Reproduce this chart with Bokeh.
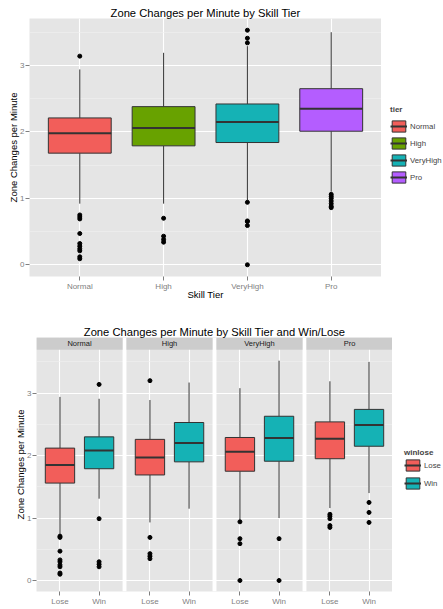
from bokeh.plotting import figure
from bokeh.models import Range1d, FixedTicker, Legend, LegendItem, ColumnDataSource
from bokeh.layouts import column, row
from bokeh.embed import file_html
from bokeh.resources import INLINE
from bokeh.core.properties import value

FONT = "Liberation Sans"

# ---------------- data: chart 1 (by tier) ----------------
tiers = ["Normal", "High", "VeryHigh", "Pro"]
tier_colors = ["#F25E5A", "#68A200", "#15B2B5", "#B45DFF"]
tier_lower = [0.92, 0.92, 0.97, 1.10]
tier_q1 = [1.68, 1.79, 1.84, 2.01]
tier_median = [1.98, 2.06, 2.15, 2.35]
tier_q3 = [2.21, 2.38, 2.42, 2.65]
tier_upper = [2.94, 3.19, 3.29, 3.50]
out_normal = [3.14, 0.75, 0.72, 0.69, 0.47, 0.32, 0.28, 0.24, 0.21, 0.12, 0.09]
out_high = [0.70, 0.43, 0.38, 0.34]
out_veryhigh = [3.53, 3.41, 3.34, 0.94, 0.66, 0.65, 0.59, 0.0]
out_pro = [1.06, 1.03, 1.00, 0.96, 0.92, 0.88, 0.86]
tier_outliers = [out_normal, out_high, out_veryhigh, out_pro]

# ---------------- data: chart 2 (tier x win/lose) ----------------
winlose = ["Lose", "Win"]
winlose_colors = ["#F25E5A", "#15B2B5"]
wl_tier = ["Normal", "Normal", "High", "High", "VeryHigh", "VeryHigh", "Pro", "Pro"]
wl_outcome = ["Lose", "Win", "Lose", "Win", "Lose", "Win", "Lose", "Win"]
wl_lower = [0.73, 1.31, 0.93, 1.15, 0.97, 1.00, 1.16, 1.40]
wl_q1 = [1.56, 1.79, 1.69, 1.90, 1.75, 1.91, 1.95, 2.15]
wl_median = [1.85, 2.08, 1.97, 2.20, 2.06, 2.28, 2.27, 2.49]
wl_q3 = [2.12, 2.30, 2.26, 2.53, 2.29, 2.63, 2.54, 2.74]
wl_upper = [2.94, 2.91, 2.89, 3.17, 3.08, 3.52, 3.19, 3.50]
out_normal_lose = [0.71, 0.69, 0.47, 0.33, 0.30, 0.25, 0.22, 0.12, 0.10]
out_normal_win = [3.14, 0.99, 0.30, 0.26, 0.22]
out_high_lose = [3.20, 0.69, 0.43, 0.39, 0.35]
out_high_win = []
out_veryhigh_lose = [0.94, 0.67, 0.59, 0.0]
out_veryhigh_win = [0.67, 0.0]
out_pro_lose = [1.06, 1.03, 0.99, 0.88, 0.85]
out_pro_win = [1.25, 1.09, 0.93]
wl_outliers = [out_normal_lose, out_normal_win, out_high_lose, out_high_win,
               out_veryhigh_lose, out_veryhigh_win, out_pro_lose, out_pro_win]

BOX_W = 0.75
EDGE = "#333333"
PANEL_BG = "#E5E5E5"
GREY = "#7F7F7F"


def expanded(lo_list, hi_list, outs):
    vals = list(lo_list) + list(hi_list) + [v for o in outs for v in o]
    lo, hi = min(vals), max(vals)
    pad = 0.05 * (hi - lo)
    return lo - pad, hi + pad


def style(p, title):
    p.title.text = title
    p.title.text_font = FONT
    p.title.text_font_size = "11.2px"
    p.title.text_font_style = "normal"
    p.title.text_color = "black"
    p.title.align = "center"
    p.title.standoff = 0
    p.background_fill_color = PANEL_BG
    p.border_fill_color = "white"
    p.outline_line_color = None
    for ax in (p.xaxis[0], p.yaxis[0]):
        ax.axis_line_color = None
        ax.major_tick_line_color = GREY
        ax.major_tick_in = 0
        ax.major_tick_out = 4
        ax.minor_tick_line_color = None
        ax.major_label_text_font = FONT
        ax.major_label_text_font_size = "8px"
        ax.major_label_text_color = GREY
        ax.major_label_standoff = 1
        ax.axis_label_text_font = FONT
        ax.axis_label_text_font_size = "9.5px"
        ax.axis_label_text_font_style = "normal"
        ax.axis_label_text_color = "black"
    p.xaxis[0].axis_label_standoff = -5
    p.yaxis[0].axis_label_standoff = -2
    p.yaxis[0].ticker = FixedTicker(ticks=[0, 1, 2, 3], minor_ticks=[0.5, 1.5, 2.5, 3.5])
    p.xgrid.grid_line_color = "white"
    p.xgrid.grid_line_width = 1.1
    p.ygrid.grid_line_color = "white"
    p.ygrid.grid_line_width = 1.1
    p.ygrid.minor_grid_line_color = "#F0F0F0"
    p.ygrid.minor_grid_line_width = 0.6


def legend_panel(labels, colors, q1, q3, med, title, width, height, loc, spacing, t_standoff):
    """A small side figure that only holds the legend.  Its key renderers carry the
    real box values but the figure's ranges keep them out of view, so only the
    legend keys are drawn."""
    lf = figure(width=width, height=height, x_range=Range1d(-2, -1), y_range=Range1d(-2, -1),
                output_backend="svg", toolbar_location=None, min_border=0,
                x_axis_location=None, y_axis_location=None)
    lf.outline_line_color = None
    lf.background_fill_color = "white"
    lf.border_fill_color = "white"
    lf.grid.visible = False
    items = []
    for i, (lab, col) in enumerate(zip(labels, colors)):
        xi = i + 1
        rb = lf.vbar(x=[xi], top=[q3[i]], bottom=[q1[i]], width=BOX_W, fill_color=col,
                     line_color=EDGE, line_width=1)
        rm = lf.segment(x0=[xi - BOX_W / 2], x1=[xi + BOX_W / 2], y0=[med[i]], y1=[med[i]],
                        line_color=EDGE, line_width=2)
        items.append(LegendItem(label=lab, renderers=[rb, rm]))
    lg = Legend(items=items, location=loc, spacing=spacing)
    lg.title = title
    lg.title_text_font = FONT
    lg.title_text_font_size = "8px"
    lg.title_text_font_style = "bold"
    lg.title_standoff = t_standoff
    lg.label_text_font = FONT
    lg.label_text_font_size = "7.8px"
    lg.label_standoff = 3
    lg.glyph_width = 17
    lg.glyph_height = 14
    lg.padding = 0
    lg.margin = 0
    lg.border_line_color = None
    lg.background_fill_alpha = 0
    lf.add_layout(lg)
    return lf


def draw_boxes(p, xs, lower, q1, med, q3, upper, colors, outs):
    src = ColumnDataSource(dict(
        x=xs, xl=[x - BOX_W / 2 for x in xs], xr=[x + BOX_W / 2 for x in xs],
        lower=lower, q1=q1, med=med, q3=q3, upper=upper, color=colors))
    p.segment(x0="x", x1="x", y0="q3", y1="upper", line_color=EDGE, line_width=1, source=src)
    p.segment(x0="x", x1="x", y0="lower", y1="q1", line_color=EDGE, line_width=1, source=src)
    p.vbar(x="x", width=BOX_W, bottom="q1", top="q3", fill_color="color",
           line_color=EDGE, line_width=1, source=src)
    p.segment(x0="xl", x1="xr", y0="med", y1="med", line_color=EDGE,
              line_width=2, source=src)
    ox, oy = [], []
    for x, o in zip(xs, outs):
        ox += [x] * len(o)
        oy += o
    p.scatter(ox, oy, size=4, color="black")


H1, H2 = 306, 302

# ---------------- figure 1 ----------------
y0, y1 = expanded(tier_lower, tier_upper, tier_outliers)
p1 = figure(width=381, height=H1, x_range=Range1d(0.4, len(tiers) + 0.6),
            y_range=Range1d(y0, y1), output_backend="svg", toolbar_location=None,
            min_border_left=29, min_border_right=0, min_border_top=18, min_border_bottom=30)
style(p1, "Zone Changes per Minute by Skill Tier")
x1s = [i + 1 for i in range(len(tiers))]
p1.xaxis[0].ticker = FixedTicker(ticks=x1s)
p1.xaxis[0].major_label_overrides = {x: t for x, t in zip(x1s, tiers)}
p1.xaxis[0].axis_label = "Skill Tier"
p1.yaxis[0].axis_label = "Zone Changes per Minute"
draw_boxes(p1, x1s, tier_lower, tier_q1, tier_median, tier_q3, tier_upper,
           tier_colors, tier_outliers)
lf1 = legend_panel(tiers, tier_colors, tier_q1, tier_q3, tier_median, "tier",
                   62, H1, (9, 92), 3, 5)

# ---------------- figure 2 ----------------
SPAN = len(winlose) + 0.2
GAP = 0.1
STRIP_PX, PANEL_PX = 12.3, 244.0
b0, b1 = expanded(wl_lower, wl_upper, wl_outliers)
strip_top = b1 + (b1 - b0) * STRIP_PX / PANEL_PX
p2 = figure(width=392, height=H2,
            x_range=Range1d(0.4, 0.4 + len(tiers) * SPAN + (len(tiers) - 1) * GAP),
            y_range=Range1d(b0, strip_top), output_backend="svg", toolbar_location=None,
            min_border_left=36, min_border_right=0, min_border_top=31, min_border_bottom=15)
style(p2, "Zone Changes per Minute by Skill Tier and Win/Lose")
x2s = [round(tiers.index(t) * (SPAN + GAP) + winlose.index(o) + 1, 6)
       for t, o in zip(wl_tier, wl_outcome)]
p2.xaxis[0].ticker = FixedTicker(ticks=x2s)
p2.xaxis[0].major_label_overrides = {x: o for x, o in zip(x2s, wl_outcome)}
p2.yaxis[0].axis_label = "Zone Changes per Minute"

panel_left = [0.4 + i * (SPAN + GAP) for i in range(len(tiers))]
panel_right = [l + SPAN for l in panel_left]
p2.quad(left=panel_right[:-1], right=panel_left[1:], bottom=b0, top=strip_top,
        fill_color="white", line_color=None)
p2.quad(left=panel_left, right=panel_right, bottom=b1, top=strip_top,
        fill_color="#CCCCCC", line_color=None)
p2.text(x=[(l + r) / 2 for l, r in zip(panel_left, panel_right)], y=(b1 + strip_top) / 2,
        text=tiers, text_align="center", text_baseline="middle",
        text_font=value(FONT), text_font_size="7.5px", text_color="#1A1A1A")

wl_colors = [winlose_colors[winlose.index(o)] for o in wl_outcome]
draw_boxes(p2, x2s, wl_lower, wl_q1, wl_median, wl_q3, wl_upper, wl_colors, wl_outliers)
lf2 = legend_panel(winlose, winlose_colors, wl_q1[:2], wl_q3[:2], wl_median[:2], "winlose",
                   51, H2, (12, 101), 4, 1)

layout = column(row(p1, lf1), row(p2, lf2))
open("out.html", "w").write(file_html(layout, INLINE))
